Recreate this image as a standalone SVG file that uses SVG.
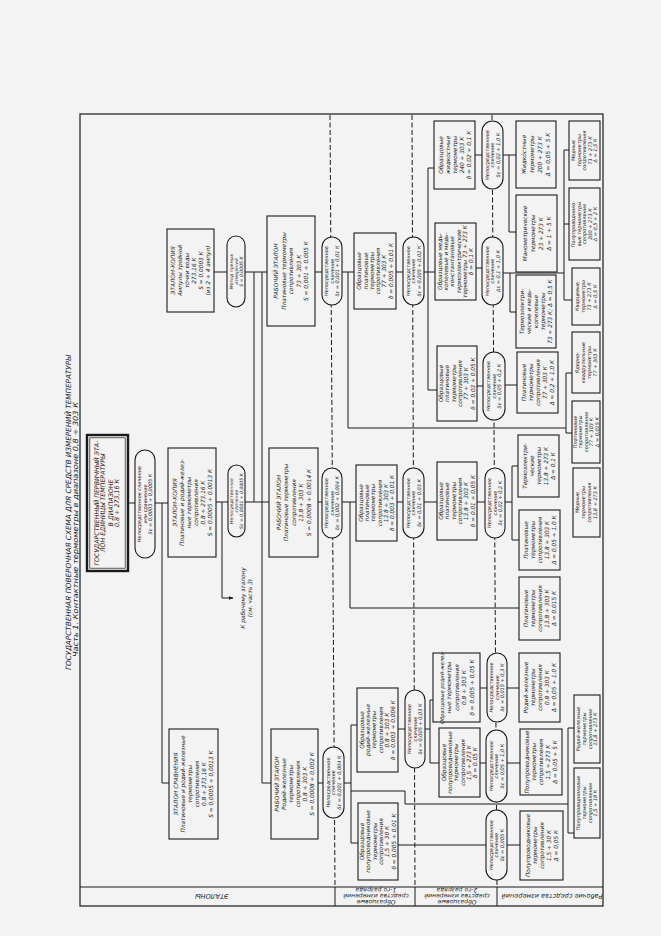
<svg xmlns="http://www.w3.org/2000/svg" width="661" height="936" viewBox="0 0 661 936">
<style>
.b{fill:#f3f3f3;stroke:#1a1a1a;stroke-width:1.1}
.l{fill:none;stroke:#1a1a1a;stroke-width:1}
.d{fill:none;stroke:#1a1a1a;stroke-width:1;stroke-dasharray:5 2.5}
text{font-family:"DejaVu Sans","Liberation Sans",sans-serif;font-style:oblique;fill:#1a1a1a;text-anchor:middle}
.t{font-size:5.8px}
.s{font-size:5px}
.q{font-size:4.6px}
.p{font-size:6.3px}
.h{font-size:7.2px}
.k{font-size:6px}
</style>
<defs>
<marker id="ar" viewBox="0 0 10 10" refX="9" refY="5" markerWidth="5" markerHeight="5" orient="auto"><path d="M0,1 L10,5 L0,9 z" fill="#1a1a1a"/></marker>
</defs>
<rect width="661" height="936" fill="#f3f3f3"/>
<g transform="translate(0,936) rotate(-90)">
<g id="title">
<text class="h" x="423.5" y="71" textLength="315" lengthAdjust="spacingAndGlyphs">ГОСУДАРСТВЕННАЯ ПОВЕРОЧНАЯ СХЕМА ДЛЯ СРЕДСТВ ИЗМЕРЕНИЙ ТЕМПЕРАТУРЫ</text>
<text class="h" x="406.5" y="78.3" textLength="255" lengthAdjust="spacingAndGlyphs">Часть 1. Контактные термометры в диапазоне 0,8 ÷ 303 К</text>
</g>
<g id="frame">
<rect class="l" x="30" y="80" width="792" height="523" style="stroke-width:1.2"/>
<path class="l" d="M49,80 V603 M30,335 H49 M30,415 H49 M30,497 H49"/>
<path class="d" d="M821,330 L49,335 M821,412 L49,415 M821,492 L49,497"/>
<text class="k" transform="translate(0,212) rotate(-90)" x="0" y="42.5" style="font-size:6.5px">ЭТАЛОНЫ</text>
<text class="k" transform="translate(0,376) rotate(-90)"><tspan x="0" y="36.5">Образцовые</tspan><tspan x="0" y="42.3">средства измерений</tspan><tspan x="0" y="48">1-го разряда</tspan></text>
<text class="k" transform="translate(0,457) rotate(-90)"><tspan x="0" y="36.5">Образцовые</tspan><tspan x="0" y="42.3">средства измерений</tspan><tspan x="0" y="48">2-го разряда</tspan></text>
<text class="k" transform="translate(0,552) rotate(-90)" x="0" y="42.5" style="font-size:6.5px">Рабочие средства измерений</text>
</g>
<g id="connectors" class="l">
<path d="M433,128 V135 M433,155 V168 M434,216 V228"/>
<path d="M434,222 H338 V233" marker-end="url(#ar)"/>
<path d="M433,162 H153 V169"/>
<path d="M664,214 V227 M664,245 V267 M434,245 V269 M664,254 H434 M664,262 H153 V271"/>
<path d="M664,315 V322 M664,342 V354 M664,348 H508 V566 M563,566 H503 M563,566 V572 M503,566 V572"/>
<path d="M434,318 V322 M434,342 V356 M434,350 H328 V519"/>
<path d="M153,318 V323 M153,344 V351 M211,351 H93 M211,351 V357 M93,351 V358"/>
<path d="M145,351 V405 H132 V568 M208,568 H103 M208,568 V574 M103,568 V574"/>
<path d="M664,396 V403 M664,424 V428 M768,428 H546 M768,428 V434 M664,428 V435 M546,428 V437"/>
<path d="M434,397 V403 M434,424 V437 M207,398 V405 M207,425 V430 M236,430 H173 M236,430 V433 M173,430 V439"/>
<path d="M781,475 V482 M781,503 V516 M781,509 H704 V516"/>
<path d="M668,476 V482 M663,503 V564 M786,564 H636 M786,564 V569 M712,564 V569 M636,564 V572 M663,510 H624 V516"/>
<path d="M550,477 V483 M551,505 V517 M434,477 V485 M434,505 V512 M470,512 H396 M470,512 V518 M396,512 V519"/>
<path d="M248,480 V487 M248,507 V519 M173,480 V486 M173,507 V520 M91,398 V486 M91,507 V520"/>
</g>
<text class="t" x="338"><tspan x="338" y="245">К рабочему эталону</tspan><tspan x="338" y="252">(см. часть 3)</tspan></text>

<g id="n-primary">
<rect class="b" x="365" y="87" width="136" height="41" style="stroke-width:2.4"/>
<rect class="b" x="367.8" y="89.8" width="130.4" height="35.4" style="stroke-width:0.7"/>
<text class="p"><tspan x="433" y="98.5">ГОСУДАРСТВЕННЫЙ ПЕРВИЧНЫЙ ЭТА-</tspan><tspan x="433" y="105">ЛОН ЕДИНИЦЫ ТЕМПЕРАТУРЫ</tspan><tspan x="433" y="112.5">В ДИАПАЗОНЕ</tspan><tspan x="433" y="119">0,8 ÷ 273,16 К</tspan></text>
</g>
<g id="o-primary">
<rect class="b" x="378" y="135" width="108" height="20" rx="10"/>
<text class="s"><tspan x="432" y="141.2">Непосредственное сличение</tspan><tspan x="432" y="146.8">или сравнение</tspan><tspan x="432" y="152.4">Sε = 0,0003 ÷ 0,0005 К</tspan></text>
</g>
<g id="n-ec">
<rect class="b" x="379" y="168" width="109" height="48"/>
<text class="t"><tspan x="433.5" y="176.5">ЭТАЛОН-КОПИЯ</tspan><tspan x="433.5" y="183.5">Платиновые и родий-желез-</tspan><tspan x="433.5" y="190.5">ные термометры</tspan><tspan x="433.5" y="197.5">сопротивления</tspan><tspan x="433.5" y="204.5">0,8 ÷ 273,16 К</tspan><tspan x="433.5" y="211.5">S = 0,0005 ÷ 0,0013 К</tspan></text>
</g>
<g id="o-ec">
<rect class="b" x="399" y="228" width="72" height="17" rx="8.5"/>
<text class="q"><tspan x="435" y="233.2">Непосредственное</tspan><tspan x="435" y="238">сличение</tspan><tspan x="435" y="242.8">Sε = 0,0001 ÷ 0,0005 К</tspan></text>
</g>
<g id="n-amp">
<rect class="b" x="624" y="167" width="83" height="47"/>
<text class="t"><tspan x="665.5" y="175">ЭТАЛОН-КОПИЯ</tspan><tspan x="665.5" y="182">Ампулы тройной</tspan><tspan x="665.5" y="189">точки воды</tspan><tspan x="665.5" y="196">273,16 К</tspan><tspan x="665.5" y="203">S = 0,0003 К</tspan><tspan x="665.5" y="210">(из 2 ÷ 4 ампул)</tspan></text>
</g>
<g id="o-amp">
<rect class="b" x="629" y="227" width="71" height="18" rx="9"/>
<text class="q"><tspan x="664.5" y="232.6">Метод прямых</tspan><tspan x="664.5" y="237.6">измерений</tspan><tspan x="664.5" y="242.6">S = 0,0005 К</tspan></text>
</g>
<g id="n-es">
<rect class="b" x="97" y="169" width="110" height="49"/>
<text class="t"><tspan x="152" y="178">ЭТАЛОН СРАВНЕНИЯ</tspan><tspan x="152" y="185">Платиновые и родий-железные</tspan><tspan x="152" y="192">термометры</tspan><tspan x="152" y="199">сопротивления</tspan><tspan x="152" y="206">0,8 ÷ 273,16 К</tspan><tspan x="152" y="213">S = 0,0005 ÷ 0,0013 К</tspan></text>
</g>
<g id="n-we73">
<rect class="b" x="610" y="267" width="110" height="48"/>
<text class="t"><tspan x="665" y="278">РАБОЧИЙ ЭТАЛОН</tspan><tspan x="665" y="285.5">Платиновые термометры</tspan><tspan x="665" y="293">сопротивления</tspan><tspan x="665" y="300.5">73 ÷ 303 К</tspan><tspan x="665" y="308">S = 0,001 ÷ 0,005 К</tspan></text>
</g>
<g id="n-we13">
<rect class="b" x="379" y="269" width="109" height="49"/>
<text class="t"><tspan x="433.5" y="280.5">РАБОЧИЙ ЭТАЛОН</tspan><tspan x="433.5" y="288">Платиновые термометры</tspan><tspan x="433.5" y="295.5">сопротивления</tspan><tspan x="433.5" y="303">13,8 ÷ 303 К</tspan><tspan x="433.5" y="310.5">S = 0,0008 ÷ 0,0014 К</tspan></text>
</g>
<g id="n-werh">
<rect class="b" x="97" y="271" width="110" height="47"/>
<text class="t"><tspan x="152" y="279">РАБОЧИЙ ЭТАЛОН</tspan><tspan x="152" y="286">Родий-железные</tspan><tspan x="152" y="293">термометры</tspan><tspan x="152" y="300">сопротивления</tspan><tspan x="152" y="307">0,8 ÷ 303 К</tspan><tspan x="152" y="314">S = 0,0008 ÷ 0,002 К</tspan></text>
</g>

<g id="o-a"><rect class="b" x="631" y="322" width="68" height="20" rx="10"/>
<text class="s"><tspan x="665" y="328.1">Непосредственное</tspan><tspan x="665" y="333.7">сличение</tspan><tspan x="665" y="339.3">δε = 0,001 ÷ 0,01 К</tspan></text></g>
<g id="o-b"><rect class="b" x="398" y="322" width="70" height="20" rx="10"/>
<text class="s"><tspan x="433" y="328.1">Непосредственное</tspan><tspan x="433" y="333.7">сличение</tspan><tspan x="433" y="339.3">δε = 0,002 ÷ 0,004 К</tspan></text></g>
<g id="o-c"><rect class="b" x="118" y="323" width="71" height="21" rx="10.5"/>
<text class="s"><tspan x="153.5" y="329.6">Непосредственное</tspan><tspan x="153.5" y="335.2">сличение</tspan><tspan x="153.5" y="340.8">δε = 0,001 ÷ 0,004 К</tspan></text></g>

<g id="n-1a"><rect class="b" x="627" y="354" width="76" height="42"/>
<text class="t"><tspan x="665" y="361.2">Образцовые</tspan><tspan x="665" y="367.5">платиновые</tspan><tspan x="665" y="373.8">термометры</tspan><tspan x="665" y="380.1">сопротивления</tspan><tspan x="665" y="386.4">77 ÷ 303 К</tspan><tspan x="665" y="392.7">δ = 0,005 ÷ 0,01 К</tspan></text></g>
<g id="n-1b"><rect class="b" x="395" y="356" width="76" height="41"/>
<text class="t"><tspan x="433" y="362.6">Образцовые</tspan><tspan x="433" y="368.9">платиновые</tspan><tspan x="433" y="375.2">термометры</tspan><tspan x="433" y="381.5">сопротивления</tspan><tspan x="433" y="387.8">13,8 ÷ 303 К</tspan><tspan x="433" y="394.1">δ = 0,003 ÷ 0,01 К</tspan></text></g>
<g id="n-1c"><rect class="b" x="164" y="357" width="84" height="41"/>
<text class="t"><tspan x="206" y="363.6">Образцовые</tspan><tspan x="206" y="369.9">родий-железные</tspan><tspan x="206" y="376.2">термометры</tspan><tspan x="206" y="382.5">сопротивления</tspan><tspan x="206" y="388.8">0,8 ÷ 303 К</tspan><tspan x="206" y="395.1">δ = 0,003 ÷ 0,006 К</tspan></text></g>
<g id="n-1d"><rect class="b" x="56" y="358" width="77" height="40"/>
<text class="t"><tspan x="94.5" y="364.1">Образцовые</tspan><tspan x="94.5" y="370.4">полупроводниковые</tspan><tspan x="94.5" y="376.7">термометры</tspan><tspan x="94.5" y="383">сопротивления</tspan><tspan x="94.5" y="389.3">1,5 ÷ 30 К</tspan><tspan x="94.5" y="395.6">δ = 0,005 ÷ 0,01 К</tspan></text></g>

<g id="o-d"><rect class="b" x="631" y="403" width="68" height="21" rx="10.5"/>
<text class="s"><tspan x="665" y="409.6">Непосредственное</tspan><tspan x="665" y="415.2">сличение</tspan><tspan x="665" y="420.8">δε = 0,005 ÷ 0,02 К</tspan></text></g>
<g id="o-e"><rect class="b" x="398" y="403" width="70" height="21" rx="10.5"/>
<text class="s"><tspan x="433" y="409.6">Непосредственное</tspan><tspan x="433" y="415.2">сличение</tspan><tspan x="433" y="420.8">δε = 0,01 ÷ 0,03 К</tspan></text></g>
<g id="o-f"><rect class="b" x="168" y="405" width="78" height="20" rx="10"/>
<text class="s"><tspan x="207" y="411.1">Непосредственное</tspan><tspan x="207" y="416.7">сличение</tspan><tspan x="207" y="422.3">δε = 0,005 ÷ 0,03 К</tspan></text></g>

<g id="n-2a"><rect class="b" x="747" y="434" width="68" height="41"/>
<text class="t"><tspan x="781" y="442.5">Образцовые</tspan><tspan x="781" y="449.5">жидкостные</tspan><tspan x="781" y="456.5">термометры</tspan><tspan x="781" y="463.5">240 ÷ 303 К</tspan><tspan x="781" y="470.5">δ = 0,02 ÷ 0,1 К</tspan></text></g>
<g id="n-2b"><rect class="b" x="636" y="435" width="77" height="41"/>
<text class="t"><tspan x="674.5" y="441.6">Образцовые медь-</tspan><tspan x="674.5" y="447.9">копелевые и медь-</tspan><tspan x="674.5" y="454.2">константановые</tspan><tspan x="674.5" y="460.5">термоэлектрические</tspan><tspan x="674.5" y="466.8">термометры 73 ÷ 273 К</tspan><tspan x="674.5" y="473.1">δ = 0,1 К</tspan></text></g>
<g id="n-2c"><rect class="b" x="515" y="437" width="75" height="40"/>
<text class="t"><tspan x="552.5" y="443.1">Образцовые</tspan><tspan x="552.5" y="449.4">платиновые</tspan><tspan x="552.5" y="455.7">термометры</tspan><tspan x="552.5" y="462">сопротивления</tspan><tspan x="552.5" y="468.3">77 ÷ 303 К</tspan><tspan x="552.5" y="474.6">δ = 0,03 ÷ 0,05 К</tspan></text></g>
<g id="n-2d"><rect class="b" x="396" y="437" width="78" height="40"/>
<text class="t"><tspan x="435" y="443.1">Образцовые</tspan><tspan x="435" y="449.4">платиновые</tspan><tspan x="435" y="455.7">термометры</tspan><tspan x="435" y="462">сопротивления</tspan><tspan x="435" y="468.3">13,8 ÷ 303 К</tspan><tspan x="435" y="474.6">δ = 0,01 ÷ 0,05 К</tspan></text></g>
<g id="n-2e"><rect class="b" x="214" y="433" width="69" height="47"/>
<text class="t"><tspan x="248.5" y="443.5" style="font-size:5.2px">Образцовые родий-желез-</tspan><tspan x="248.5" y="451">ные термометры</tspan><tspan x="248.5" y="458.5">сопротивления</tspan><tspan x="248.5" y="466">0,8 ÷ 303 К</tspan><tspan x="248.5" y="473.5">δ = 0,005 ÷ 0,05 К</tspan></text></g>
<g id="n-2f"><rect class="b" x="139" y="439" width="69" height="41"/>
<text class="t"><tspan x="173.5" y="445.6">Образцовые</tspan><tspan x="173.5" y="451.9">полупроводниковые</tspan><tspan x="173.5" y="458.2">термометры</tspan><tspan x="173.5" y="464.5">сопротивления</tspan><tspan x="173.5" y="470.8">1,5 ÷ 273 К</tspan><tspan x="173.5" y="477.1">δ = 0,05 К</tspan></text></g>

<g id="o-2a"><rect class="b" x="747" y="482" width="68" height="21" rx="10.5"/>
<text class="s"><tspan x="781" y="488.6">Непосредственное</tspan><tspan x="781" y="494.2">сличение</tspan><tspan x="781" y="499.8">δε = 0,02 ÷ 1,0 К</tspan></text></g>
<g id="o-2b"><rect class="b" x="631" y="482" width="68" height="21" rx="10.5"/>
<text class="s"><tspan x="665" y="488.6">Непосредственное</tspan><tspan x="665" y="494.2">сличение</tspan><tspan x="665" y="499.8">Δε = 0,1 ÷ 1,0 К</tspan></text></g>
<g id="o-2c"><rect class="b" x="516" y="483" width="68" height="22" rx="11"/>
<text class="s"><tspan x="550" y="490.1">Непосредственное</tspan><tspan x="550" y="495.7">сличение</tspan><tspan x="550" y="501.3">δε = 0,05 ÷ 0,2 К</tspan></text></g>
<g id="o-2d"><rect class="b" x="398" y="485" width="70" height="20" rx="10"/>
<text class="s"><tspan x="433" y="491.1">Непосредственное</tspan><tspan x="433" y="496.7">сличение</tspan><tspan x="433" y="502.3">δε = 0,02 ÷ 0,2 К</tspan></text></g>
<g id="o-2e"><rect class="b" x="214" y="487" width="69" height="20" rx="10"/>
<text class="s"><tspan x="248.5" y="493.1">Непосредственное</tspan><tspan x="248.5" y="498.7">сличение</tspan><tspan x="248.5" y="504.3">δε = 0,015 ÷ 0,3 К</tspan></text></g>
<g id="o-2f"><rect class="b" x="134" y="486" width="72" height="21" rx="10.5"/>
<text class="s"><tspan x="170" y="492.6">Непосредственное</tspan><tspan x="170" y="498.2">сличение</tspan><tspan x="170" y="503.8">δε = 0,05 ÷ 1,0 К</tspan></text></g>
<g id="o-2g"><rect class="b" x="56" y="486" width="70" height="21" rx="10.5"/>
<text class="s"><tspan x="91" y="492.6">Непосредственное</tspan><tspan x="91" y="498.2">сличение</tspan><tspan x="91" y="503.8">δε = 0,005 К</tspan></text></g>

<g id="w-1"><rect class="b" x="748" y="516" width="67" height="40"/>
<text class="t"><tspan x="781.5" y="526">Жидкостные</tspan><tspan x="781.5" y="534">термометры</tspan><tspan x="781.5" y="542">200 ÷ 273 К</tspan><tspan x="781.5" y="550">Δ = 0,05 ÷ 5 К</tspan></text></g>
<g id="w-2"><rect class="b" x="664" y="516" width="77" height="41"/>
<text class="t"><tspan x="702.5" y="526.5">Манометрические</tspan><tspan x="702.5" y="534.5">термометры</tspan><tspan x="702.5" y="542.5">23 ÷ 273 К</tspan><tspan x="702.5" y="550.5">Δ = 1 ÷ 5 К</tspan></text></g>
<g id="w-3"><rect class="b" x="588" y="516" width="73" height="40"/>
<text class="t"><tspan x="624.5" y="524">Термоэлектри-</tspan><tspan x="624.5" y="531">ческие и медь-</tspan><tspan x="624.5" y="538">копелевые</tspan><tspan x="624.5" y="545">термометры</tspan><tspan x="624.5" y="552">73 ÷ 273 К; Δ = 0,5 К</tspan></text></g>
<g id="w-4"><rect class="b" x="523" y="517" width="61" height="41"/>
<text class="t"><tspan x="553.5" y="525.5">Платиновые</tspan><tspan x="553.5" y="532.5">термометры</tspan><tspan x="553.5" y="539.5">сопротивления</tspan><tspan x="553.5" y="546.5">77 ÷ 303 К</tspan><tspan x="553.5" y="553.5">Δ = 0,2 ÷ 1,0 К</tspan></text></g>
<g id="w-5"><rect class="b" x="439" y="518" width="62" height="41"/>
<text class="t"><tspan x="470" y="526.5">Термоэлектри-</tspan><tspan x="470" y="533.5">ческие</tspan><tspan x="470" y="540.5">термометры</tspan><tspan x="470" y="547.5">13,8 ÷ 273 К</tspan><tspan x="470" y="554.5">Δ = 0,1 К</tspan></text></g>
<g id="w-6"><rect class="b" x="366" y="519" width="60" height="41"/>
<text class="t"><tspan x="396" y="527.5">Платиновые</tspan><tspan x="396" y="534.5">термометры</tspan><tspan x="396" y="541.5">сопротивления</tspan><tspan x="396" y="548.5">13,8 ÷ 303 К</tspan><tspan x="396" y="555.5">Δ = 0,05 ÷ 1,0 К</tspan></text></g>
<g id="w-7"><rect class="b" x="296" y="519" width="63" height="41"/>
<text class="t"><tspan x="327.5" y="527.5">Платиновые</tspan><tspan x="327.5" y="534.5">термометры</tspan><tspan x="327.5" y="541.5">сопротивления</tspan><tspan x="327.5" y="548.5">13,8 ÷ 303 К</tspan><tspan x="327.5" y="555.5">Δ = 0,015 К</tspan></text></g>
<g id="w-8"><rect class="b" x="214" y="519" width="69" height="41"/>
<text class="t"><tspan x="248.5" y="527.5">Родий-железные</tspan><tspan x="248.5" y="534.5">термометры</tspan><tspan x="248.5" y="541.5">сопротивления</tspan><tspan x="248.5" y="548.5">0,8 ÷ 303 К</tspan><tspan x="248.5" y="555.5">Δ = 0,05 ÷ 1,0 К</tspan></text></g>
<g id="w-9"><rect class="b" x="141" y="520" width="66" height="42"/>
<text class="t"><tspan x="174" y="529">Полупроводниковые</tspan><tspan x="174" y="536">термометры</tspan><tspan x="174" y="543">сопротивления</tspan><tspan x="174" y="550">1,5 ÷ 273 К</tspan><tspan x="174" y="557">Δ = 0,05 ÷ 5 К</tspan></text></g>
<g id="w-10"><rect class="b" x="56" y="520" width="69" height="43"/>
<text class="t"><tspan x="90.5" y="529.5">Полупроводниковые</tspan><tspan x="90.5" y="536.5">термометры</tspan><tspan x="90.5" y="543.5">сопротивления</tspan><tspan x="90.5" y="550.5">1,5 ÷ 30 К</tspan><tspan x="90.5" y="557.5">Δ = 0,05 К</tspan></text></g>

<g id="r-1"><rect class="b" x="756" y="569" width="59" height="31"/>
<text class="s"><tspan x="785.5" y="575">Медные</tspan><tspan x="785.5" y="580.6">термометры</tspan><tspan x="785.5" y="586.2">сопротивления</tspan><tspan x="785.5" y="591.8">73 ÷ 273 К</tspan><tspan x="785.5" y="597.4">Δ = 1,5 К</tspan></text></g>
<g id="r-2"><rect class="b" x="676" y="569" width="72" height="31"/>
<text class="s"><tspan x="712" y="575">Полупроводнико-</tspan><tspan x="712" y="580.6">вые термометры</tspan><tspan x="712" y="586.2">сопротивления</tspan><tspan x="712" y="591.8">200 ÷ 273 К</tspan><tspan x="712" y="597.4">Δ = 0,5 ÷ 2 К</tspan></text></g>
<g id="r-3"><rect class="b" x="611" y="572" width="57" height="28"/>
<text class="s"><tspan x="639.5" y="578.7">Кварцевые</tspan><tspan x="639.5" y="584.7">термометры</tspan><tspan x="639.5" y="590.7">73 ÷ 273 К</tspan><tspan x="639.5" y="596.7">Δ = 0,5 К</tspan></text></g>
<g id="r-4"><rect class="b" x="543" y="572" width="61" height="28"/>
<text class="s"><tspan x="573.5" y="578.7">Ядерно-</tspan><tspan x="573.5" y="584.7">квадрупольные</tspan><tspan x="573.5" y="590.7">термометры</tspan><tspan x="573.5" y="596.7">77 ÷ 303 К</tspan></text></g>
<g id="r-5"><rect class="b" x="473" y="572" width="62" height="28"/>
<text class="s"><tspan x="504" y="576.9">Платиновые</tspan><tspan x="504" y="582.3">термометры</tspan><tspan x="504" y="587.7">сопротивления</tspan><tspan x="504" y="593.1">77 ÷ 303 К</tspan><tspan x="504" y="598.5">Δ = 0,015 К</tspan></text></g>
<g id="r-6"><rect class="b" x="399" y="573" width="69" height="27"/>
<text class="s"><tspan x="433.5" y="579.2">Медные</tspan><tspan x="433.5" y="585.2">термометры</tspan><tspan x="433.5" y="591.2">сопротивления</tspan><tspan x="433.5" y="597.2">13,8 ÷ 273 К</tspan></text></g>
<g id="r-7"><rect class="b" x="173" y="574" width="68" height="26"/>
<text class="s"><tspan x="207" y="580">Родий-железные</tspan><tspan x="207" y="585.8">термометры</tspan><tspan x="207" y="591.6">сопротивления</tspan><tspan x="207" y="597.4">13,8 ÷ 273 К</tspan></text></g>
<g id="r-8"><rect class="b" x="98" y="574" width="70" height="26"/>
<text class="s"><tspan x="133" y="580">Полупроводниковые</tspan><tspan x="133" y="585.8">термометры</tspan><tspan x="133" y="591.6">сопротивления</tspan><tspan x="133" y="597.4">1,5 ÷ 18 К</tspan></text></g>
</g>
</svg>
